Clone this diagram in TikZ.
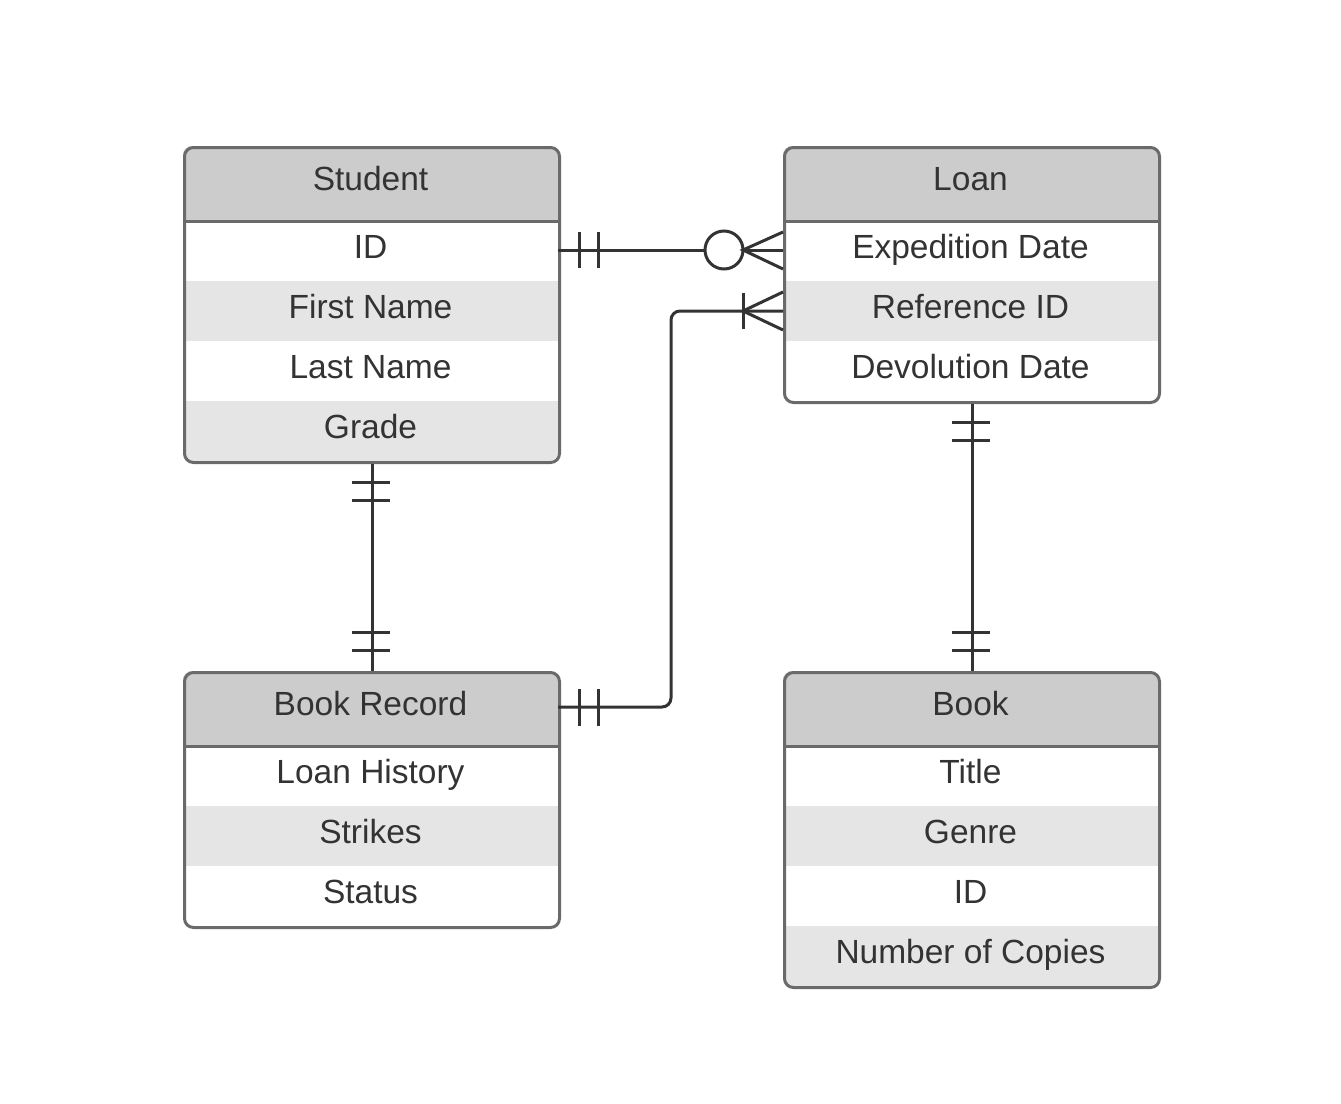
\documentclass[tikz,border=0pt]{standalone}
\usepackage{fontspec}
\setmainfont{Liberation Sans}
\definecolor{hdrgray}{HTML}{CCCCCC}
\definecolor{altgray}{HTML}{E5E5E5}
\definecolor{bordergray}{HTML}{6A6A6A}
\definecolor{ink}{HTML}{333333}
\tikzset{
  cell/.style={minimum width=375pt, minimum height=60pt, inner sep=0pt, outer sep=0pt,
    text height=24pt, text depth=10pt, text=ink, font=\fontsize{33.5}{40}\selectfont},
  hdrcell/.style={cell, minimum height=75pt, fill=hdrgray},
  altcell/.style={cell, fill=altgray},
  plaincell/.style={cell, fill=white},
  tablebox/.style={draw=bordergray, line width=3pt, rounded corners=9pt},
  sepline/.style={draw=bordergray, line width=3pt},
  conn/.style={draw=ink, line width=3pt},
}
\begin{document}
\begin{tikzpicture}[x=1pt,y=-1pt]
\useasboundingbox[fill=white] (0,0) rectangle (1341,1103);

% ---------- Student ----------
\begin{scope}
\clip[rounded corners=9pt] (183,146) rectangle (558,461);
\node[hdrcell] (sh) at (370.5,183.5) {Student};
\node[plaincell] (s1) at (370.5,251) {ID};
\node[altcell] (s2) at (370.5,311) {First Name};
\node[plaincell] (s3) at (370.5,371) {Last Name};
\node[altcell] (s4) at (370.5,431) {Grade};
\end{scope}
\draw[sepline] (sh.south west) -- (sh.south east);
\node[tablebox, minimum width=375pt, minimum height=315pt, anchor=north west, inner sep=0pt] (student) at (183,146) {};

% ---------- Loan ----------
\begin{scope}
\clip[rounded corners=9pt] (783,146) rectangle (1158,401);
\node[hdrcell] (lh) at (970.5,183.5) {Loan};
\node[plaincell] (l1) at (970.5,251) {Expedition Date};
\node[altcell] (l2) at (970.5,311) {Reference ID};
\node[plaincell] (l3) at (970.5,371) {Devolution Date};
\end{scope}
\draw[sepline] (lh.south west) -- (lh.south east);
\node[tablebox, minimum width=375pt, minimum height=255pt, anchor=north west, inner sep=0pt] (loan) at (783,146) {};

% ---------- Book Record ----------
\begin{scope}
\clip[rounded corners=9pt] (183,671) rectangle (558,926);
\node[hdrcell] (bh) at (370.5,708.5) {Book Record};
\node[plaincell] (b1) at (370.5,776) {Loan History};
\node[altcell] (b2) at (370.5,836) {Strikes};
\node[plaincell] (b3) at (370.5,896) {Status};
\end{scope}
\draw[sepline] (bh.south west) -- (bh.south east);
\node[tablebox, minimum width=375pt, minimum height=255pt, anchor=north west, inner sep=0pt] (record) at (183,671) {};

% ---------- Book ----------
\begin{scope}
\clip[rounded corners=9pt] (783,671) rectangle (1158,986);
\node[hdrcell] (kh) at (970.5,708.5) {Book};
\node[plaincell] (k1) at (970.5,776) {Title};
\node[altcell] (k2) at (970.5,836) {Genre};
\node[plaincell] (k3) at (970.5,896) {ID};
\node[altcell] (k4) at (970.5,956) {Number of Copies};
\end{scope}
\draw[sepline] (kh.south west) -- (kh.south east);
\node[tablebox, minimum width=375pt, minimum height=315pt, anchor=north west, inner sep=0pt] (book) at (783,671) {};

% ---------- Student ID -> Loan (one to zero-or-many) ----------
\coordinate (c1) at (724,250);
\coordinate (f1) at (743,250);
\draw[conn] (s1.east |- c1) -- ([xshift=-19pt]c1);
\draw[conn] (c1) circle (19pt);
\draw[conn] (f1) -- (l1.west |- f1);
\draw[conn] (783,232) -- (f1) -- (783,269);
\draw[conn] (579,232) -- (579,268);
\draw[conn] (598,232) -- (598,268);

% ---------- Book Record -> Loan (one to one-or-many) ----------
\coordinate (f2) at (743,311);
\coordinate (k) at (671,707);
\draw[conn, rounded corners=9pt] (bh.east |- k) -- (k) -- (671,311) -- (l2.west |- f2);
\draw[conn] (579,689) -- (579,726);
\draw[conn] (598,689) -- (598,726);
\draw[conn] (743,293) -- (743,329);
\draw[conn] (783,292) -- (f2) -- (783,330);

% ---------- Student -> Book Record (one to one) ----------
\draw[conn] (student.south) -- (record.north);
\draw[conn] (352,482) -- (390,482);
\draw[conn] (352,500) -- (390,500);
\draw[conn] (352,632) -- (390,632);
\draw[conn] (352,650) -- (390,650);

% ---------- Loan -> Book (one to one) ----------
\draw[conn] (loan.south) -- (book.north);
\draw[conn] (952,422) -- (990,422);
\draw[conn] (952,440) -- (990,440);
\draw[conn] (952,632) -- (990,632);
\draw[conn] (952,650) -- (990,650);
\end{tikzpicture}
\end{document}
